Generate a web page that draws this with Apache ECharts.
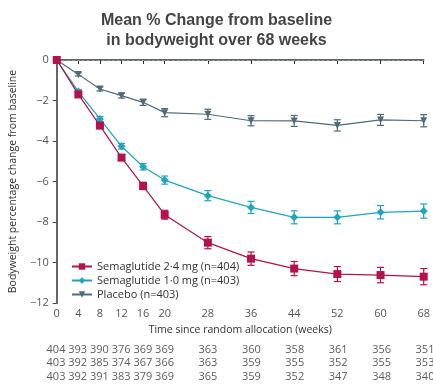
<!DOCTYPE html>
<html>
<head>
<meta charset="utf-8">
<script src="https://cdn.jsdelivr.net/npm/echarts@6/dist/echarts.min.js"></script>
<style>
  html, body { margin: 0; padding: 0; background: #fff; }
  #chart { width: 433px; height: 387px; }
</style>
</head>
<body>
<div id="chart"></div>
<script>
// weeks of measurement
var weeks = [0, 4, 8, 12, 16, 20, 28, 36, 44, 52, 60, 68];

// mean % change from baseline
var sema24 = [0, -1.7, -3.24, -4.82, -6.22, -7.64, -9.02, -9.81, -10.3, -10.57, -10.62, -10.7];
var sema10 = [0, -1.56, -2.91, -4.26, -5.27, -5.93, -6.7, -7.28, -7.77, -7.77, -7.52, -7.46];
var placebo = [0, -0.71, -1.43, -1.76, -2.09, -2.6, -2.68, -3.0, -3.01, -3.23, -2.96, -3.0];

// half width of the error bars
var sema24Err = [0, 0.1, 0.12, 0.14, 0.18, 0.22, 0.3, 0.33, 0.35, 0.37, 0.38, 0.4];
var sema10Err = [0, 0.1, 0.12, 0.14, 0.16, 0.2, 0.25, 0.3, 0.32, 0.32, 0.33, 0.35];
var placeboErr = [0, 0.08, 0.1, 0.12, 0.15, 0.2, 0.25, 0.25, 0.27, 0.28, 0.27, 0.3];

// numbers at risk
var riskSema24 = [404, 393, 390, 376, 369, 369, 363, 360, 358, 361, 356, 351];
var riskSema10 = [403, 392, 385, 374, 367, 366, 363, 359, 355, 352, 355, 353];
var riskPlacebo = [403, 392, 391, 383, 379, 369, 365, 359, 352, 347, 348, 340];

var names = ['Semaglutide 2·4 mg (n=404)', 'Semaglutide 1·0 mg (n=403)', 'Placebo (n=403)'];
var colors = ['#b3124c', '#1ea6bf', '#4f6a78'];
var rows = ['r1', 'r2', 'r3'];

var font = 'Open Sans';

function pairs(vals) {
  return weeks.map(function (w, i) { return [w, vals[i]]; });
}

function errData(vals, errs) {
  var out = [];
  for (var i = 1; i < weeks.length; i++) {
    out.push([weeks[i], vals[i] - errs[i], vals[i] + errs[i]]);
  }
  return out;
}

function errSeries(vals, errs, color) {
  return {
    type: 'custom',
    xAxisIndex: 0,
    yAxisIndex: 0,
    z: 3,
    silent: true,
    data: errData(vals, errs),
    renderItem: function (params, api) {
      var lo = api.coord([api.value(0), api.value(1)]);
      var hi = api.coord([api.value(0), api.value(2)]);
      var w = 3.5;
      var st = { stroke: color, lineWidth: 1.2 };
      return {
        type: 'group',
        children: [
          { type: 'line', shape: { x1: lo[0], y1: lo[1], x2: hi[0], y2: hi[1] }, style: st },
          { type: 'line', shape: { x1: lo[0] - w, y1: lo[1], x2: lo[0] + w, y2: lo[1] }, style: st },
          { type: 'line', shape: { x1: hi[0] - w, y1: hi[1], x2: hi[0] + w, y2: hi[1] }, style: st }
        ]
      };
    }
  };
}

function riskSeries(vals, row) {
  return {
    type: 'scatter',
    xAxisIndex: 1,
    yAxisIndex: 1,
    symbolSize: 1,
    silent: true,
    itemStyle: { color: 'transparent' },
    data: weeks.map(function (w, i) { return [w, row, vals[i]]; }),
    label: {
      show: true,
      position: 'inside',
      color: '#333',
      fontSize: 11,
      fontFamily: font,
      formatter: function (p) { return p.value[2]; }
    }
  };
}

var chart = echarts.init(document.getElementById('chart'));

var option = {
  backgroundColor: '#fff',
  animation: false,
  title: {
    text: 'Mean % Change from baseline\nin bodyweight over 68 weeks',
    left: 'center',
    top: 6,
    textStyle: {
      fontFamily: 'Liberation Sans',
      fontWeight: 'bold',
      fontSize: 16,
      color: '#444',
      lineHeight: 20
    }
  },
  legend: {
    orient: 'vertical',
    left: 66,
    top: 256,
    itemGap: 3,
    itemWidth: 20,
    itemHeight: 8,
    data: names,
    textStyle: { fontFamily: font, fontSize: 11, color: '#333' }
  },
  grid: [
    { left: 56, right: 8, top: 60, bottom: 84 },
    { left: 56, right: 8, top: 343, height: 40.5 }
  ],
  xAxis: [{
    type: 'value',
    min: 0,
    max: 68,
    interval: 4,
    name: 'Time since random allocation (weeks)',
    nameLocation: 'middle',
    nameGap: 22,
    nameTextStyle: { fontFamily: font, fontSize: 10.5, color: '#333' },
    axisLine: { lineStyle: { color: '#333', width: 1.5 } },
    axisTick: { length: 4, lineStyle: { color: '#333' }, customValues: weeks },
    axisLabel: { fontFamily: font, fontSize: 11, color: '#555', margin: 5, customValues: weeks },
    splitLine: { show: false }
  }, {
    type: 'value',
    gridIndex: 1,
    min: 0,
    max: 68,
    show: false
  }],
  yAxis: [{
    type: 'value',
    min: -12,
    max: 0,
    interval: 2,
    name: 'Bodyweight percentage change from baseline',
    nameLocation: 'middle',
    nameGap: 35,
    nameTextStyle: { fontFamily: font, fontSize: 10.5, color: '#333' },
    axisLine: { show: true, lineStyle: { color: '#666', width: 2 } },
    axisTick: { show: true, length: 4, lineStyle: { color: '#444' } },
    axisLabel: {
      fontFamily: font, fontSize: 11, color: '#555', margin: 8,
      formatter: function (v) { return String(v).replace('-', '\u2212'); }
    },
    splitLine: { show: false }
  }, {
    type: 'category',
    gridIndex: 1,
    data: rows,
    inverse: true,
    show: false
  }],
  series: [
    errSeries(placebo, placeboErr, colors[2]),
    errSeries(sema10, sema10Err, colors[1]),
    errSeries(sema24, sema24Err, colors[0]),
    {
      name: names[2],
      type: 'line',
      z: 4,
      data: pairs(placebo),
      symbol: 'triangle',
      symbolRotate: 180,
      symbolSize: 7,
      lineStyle: { color: colors[2], width: 1.2 },
      itemStyle: { color: colors[2] },
      markLine: {
        silent: true,
        symbol: 'none',
        label: { show: false },
        lineStyle: { color: '#8a959c', type: [3, 2], width: 1 },
        data: [{ yAxis: 0 }]
      }
    },
    {
      name: names[1],
      type: 'line',
      z: 5,
      data: pairs(sema10),
      symbol: 'diamond',
      symbolSize: 8,
      lineStyle: { color: colors[1], width: 1.2 },
      itemStyle: { color: colors[1] }
    },
    {
      name: names[0],
      type: 'line',
      z: 6,
      data: pairs(sema24),
      symbol: 'rect',
      symbolSize: 8,
      lineStyle: { color: colors[0], width: 1.2 },
      itemStyle: { color: colors[0] }
    },
    riskSeries(riskSema24, rows[0]),
    riskSeries(riskSema10, rows[1]),
    riskSeries(riskPlacebo, rows[2])
  ]
};

chart.setOption(option);
</script>
</body>
</html>
